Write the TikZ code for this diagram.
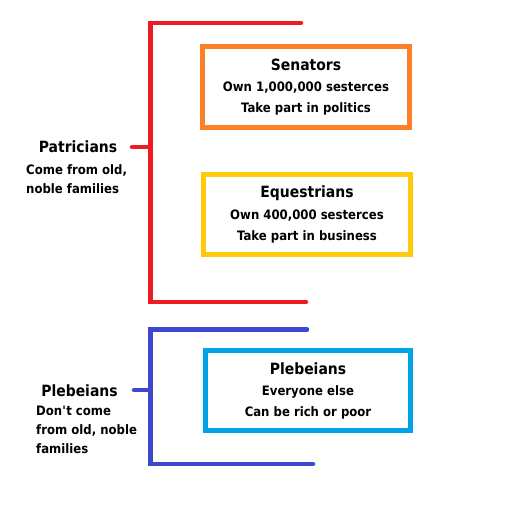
\documentclass[tikz,border=0pt]{standalone}
\usepackage{fontspec}
\setmainfont{DejaVu Sans}[FakeStretch=0.9]
\usetikzlibrary{positioning}
\definecolor{red}{RGB}{237,28,36}
\definecolor{orange}{RGB}{255,127,39}
\definecolor{yellow}{RGB}{255,201,14}
\definecolor{blue}{RGB}{63,72,204}
\definecolor{cyan}{RGB}{0,162,232}
\newcommand{\rankfont}{\bfseries\fontsize{15.5}{21}\selectfont}
\newcommand{\notefont}{\bfseries\fontsize{13}{21}\selectfont}

\begin{document}
\begin{tikzpicture}[x=1pt,y=-1pt,
        box/.style={draw,line width=5pt,minimum width=207pt,minimum height=81pt,inner sep=0pt,align=center,text=black,font=\notefont},
        bracket/.style={line width=4.5pt,line cap=round},
        rank/.style={font=\rankfont,inner sep=0pt,anchor=base},
        note/.style={font=\bfseries\fontsize{13}{19}\selectfont,align=left,inner sep=0pt,anchor=base west}]
        \useasboundingbox (0,0) rectangle (505,513);
        % patricians
        \coordinate (patTop)  at (301,23);
        \coordinate (patUp)   at (150.5,23);
        \coordinate (patDown) at (150.5,302);
        \coordinate (patBot)  at (306,302);
        \coordinate (patMid)  at (150.5,147);
        \coordinate (patStub) at (132,147);
        \draw[red,bracket] (patTop) -- (patUp) -- (patDown) -- (patBot);
        \draw[red,bracket] (patStub) -- (patMid);
        \node[rank] (patTitle) at (78,153) {Patricians};
        \node[note] (patNote) at (26,193) {Come from old,\\noble families};
        \node[box,draw=orange] (senators) at (306,87)
            {{\rankfont Senators}\\Own 1,000,000 sesterces\\Take part in politics};
        \node[box,draw=yellow,minimum height=80pt] (equestrians) at (307,214.5)
            {{\rankfont Equestrians}\\[1pt]Own 400,000 sesterces\\[0.5pt]Take part in business};
        % plebeians
        \coordinate (plebTop)  at (307,329.5);
        \coordinate (plebUp)   at (150.5,329.5);
        \coordinate (plebDown) at (150.5,464);
        \coordinate (plebBot)  at (313,464);
        \coordinate (plebMid)  at (150.5,390);
        \coordinate (plebStub) at (134,390);
        \draw[blue,bracket] (plebTop) -- (plebUp) -- (plebDown) -- (plebBot);
        \draw[blue,bracket] (plebStub) -- (plebMid);
        \node[rank] (plebTitle) at (79.5,396) {Plebeians};
        \node[note] (plebNote) at (36,453) {Don\textquotesingle t come\\from old, noble\\families};
        \node[box,draw=cyan,minimum width=205pt,minimum height=80pt] (plebeians) at (308,390.5)
            {{\rankfont Plebeians}\\Everyone else\\Can be rich or poor};
    \end{tikzpicture}
\end{document}
